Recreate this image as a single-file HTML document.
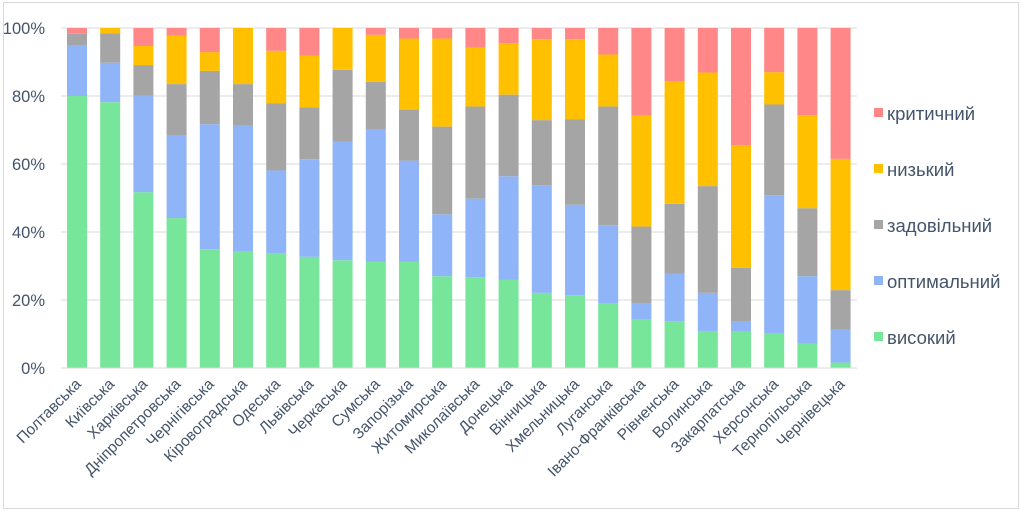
<!DOCTYPE html>
<html><head><meta charset="utf-8"><style>
html,body{margin:0;padding:0;background:#fff;}
svg text{font-family:"Liberation Sans",sans-serif;fill:#44546a;}
</style></head><body>
<svg id="s" width="1024" height="513" xmlns="http://www.w3.org/2000/svg">
<rect x="3.5" y="2.5" width="1015" height="506" fill="#fff" stroke="#d9d9d9"/>
<g id="g"></g>
<g font-size="18.5">
<rect x="874" y="108" width="9" height="9" fill="#ff8787"/><text x="887" y="120">критичний</text>
<rect x="874" y="164" width="9" height="9" fill="#ffc000"/><text x="887" y="176">низький</text>
<rect x="874" y="220" width="9" height="9" fill="#a5a5a5"/><text x="887" y="232">задовільний</text>
<rect x="874" y="276" width="9" height="9" fill="#8fb4f8"/><text x="887" y="288">оптимальний</text>
<rect x="874" y="332" width="9" height="9" fill="#77e59a"/><text x="887" y="344">високий</text>
</g>
</svg>
<script>
var names=["Полтавська","Київська","Харківська","Дніпропетровська","Чернігівська","Кіровоградська","Одеська","Львівська","Черкаська","Сумська","Запорізька","Житомирська","Миколаївська","Донецька","Вінницька","Хмельницька","Луганська","Івано-Франківська","Рівненська","Волинська","Закарпатська","Херсонська","Тернопільська","Чернівецька"];
var d=[[80,95,98.3,98.3],[78.2,89.8,98.4,100],[51.7,80.1,89.1,94.7],[44.1,68.3,83.5,97.7],[34.9,71.7,87.4,92.9],[34.4,71.3,83.5,100],[33.8,58.1,77.8,93.3],[32.7,61.4,76.6,91.8],[31.7,66.6,87.7,100],[31.2,70.3,84.2,98],[31.2,61,76,96.9],[27,45.2,71,96.9],[26.7,49.8,76.9,94.2],[25.9,56.4,80.4,95.5],[22.1,53.8,72.9,96.7],[21.4,48,73.2,96.7],[18.9,42,76.9,92.2],[14.2,19.1,41.6,74.2],[13.8,27.8,48.3,84.3],[10.9,22.1,53.5,86.9],[10.7,13.7,29.5,65.5],[10.1,50.8,77.5,87],[7.1,27,47,74.4],[1.6,11.3,22.9,61.5]];
var cols=["#77e59a","#8fb4f8","#a5a5a5","#ffc000","#ff8787"];
var h='';
for(var i=0;i<=5;i++){var y=368-i*68;h+='<line x1="61" x2="857" y1="'+y+'" y2="'+y+'" stroke="#d9d9d9" stroke-width="1"/>';h+='<text x="45" y="'+(y+6)+'" font-size="16.5" text-anchor="end">'+(i*20)+'%</text>';}
function Y(p){return 368-p*3.4;}
for(var k=0;k<24;k++){var cx=77+k*33.2,x=cx-10,v=[0].concat(d[k]).concat([100]);
for(var j=0;j<5;j++){var a=Y(v[j]),b=Y(v[j+1]);if(a-b>0.1)h+='<rect x="'+x+'" y="'+b+'" width="20" height="'+(a-b)+'" fill="'+cols[j]+'"/>';}
h+='<text font-size="15.5" text-anchor="end" transform="translate('+(cx+5)+',385) rotate(-45)">'+names[k]+'</text>';}
h+='<line x1="61" x2="857" y1="368" y2="368" stroke="#d9d9d9"/>';
document.getElementById('g').innerHTML=h;
</script>
</body></html>
